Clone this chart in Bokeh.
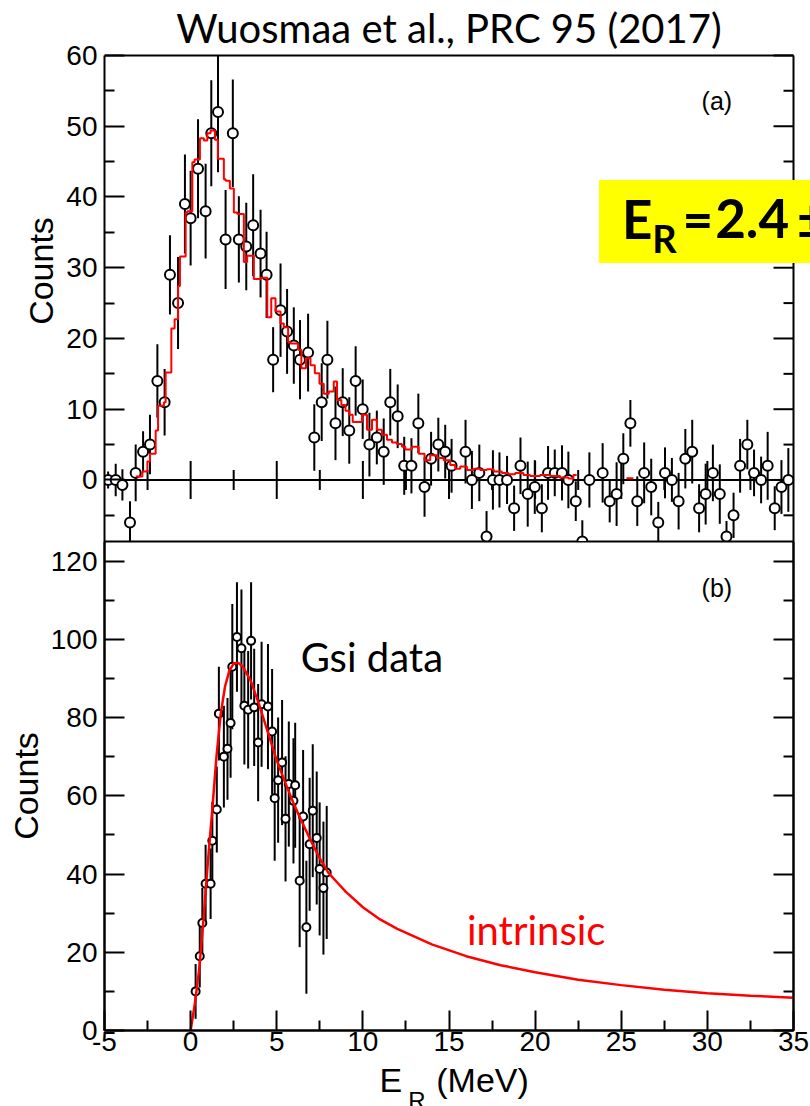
import numpy as np
from bokeh.plotting import figure
from bokeh.models import FixedTicker, LinearAxis, Label, BoxAnnotation, Range1d
from bokeh.layouts import column
from bokeh.embed import file_html
from bokeh.resources import INLINE

# ---------------- panel (a): measured spectrum ----------------
a_energy = [-4.79, -4.35, -3.96, -3.52, -3.19, -2.76, -2.36, -1.93, -1.51, -1.20,
            -0.73, -0.33, 0.00, 0.43, 0.87, 1.20, 1.59, 2.03, 2.45, 2.80,
            3.23, 3.63, 4.06, 4.41, 4.79, 5.22, 5.60, 5.99, 6.35, 6.82,
            7.18, 7.61, 7.94, 8.41, 8.83, 9.21, 9.58, 9.99, 10.38, 10.81,
            11.21, 11.59, 12.02, 12.40, 12.82, 13.22, 13.58, 13.96, 14.38, 14.78,
            15.15, 15.96, 16.33, 16.76, 17.18, 17.55, 17.93, 18.37, 18.78, 19.15,
            19.57, 19.98, 20.39, 20.75, 21.14, 21.56, 21.93, 22.36, 22.74, 23.15,
            23.92, 24.33, 24.73, 25.12, 25.53, 25.93, 26.33, 26.74, 27.15, 27.54,
            27.94, 28.33, 28.72, 29.12, 29.52, 29.90, 30.32, 30.72, 31.11, 31.52,
            31.90, 32.32, 32.71, 33.12, 33.50, 33.91, 34.30, 34.70]
a_counts = [0, 0, -0.7, -6, 1, 4, 5, 14, 11, 29,
            25, 39, 37, 44, 38, 49, 52, 34, 49, 34,
            33, 36, 32, 29, 17, 24, 21, 19, 17, 18,
            6, 11, 17, 8, 11, 7, 14, 10, 5, 6,
            4, 11, 9, 2, 2, 8, -1, 3, 5, 4,
            2, 4, 0, 1, -8, 0, 0, 0, -4, 2,
            -2, -1, -4, 1, 1, 1, 0, -3, -8.7, 0,
            1, -3, -2, 3, 8, -3, 1, -1, -6, 1,
            0, -3, 3, 4, -4, -2, 1, -2, -8, -5,
            2, 5, 1, 0, 2, -4, -1, 0]
a_error = [1.2, 2.3, 2.2, 3.0, 4.0, 2.9, 4.2, 5.2, 4.7, 5.6,
           6.5, 7.0, 6.7, 7.0, 6.7, 7.5, 8.5, 7.0, 7.6, 6.1,
           6.2, 7.2, 6.2, 6.1, 4.6, 6.6, 6.0, 5.4, 5.6, 5.5,
           4.7, 5.5, 5.5, 5.2, 4.8, 4.7, 4.9, 4.2, 4.5, 3.8,
           4.7, 4.7, 4.5, 4.1, 3.9, 4.2, 4.2, 3.8, 3.8, 3.8,
           3.8, 4.5, 4.1, 4.0, 3.6, 4.2, 3.9, 3.4, 3.2, 4.0,
           4.6, 3.8, 3.4, 3.8, 3.3, 3.9, 4.0, 2.8, 3.0, 3.9,
           4.2, 3.0, 4.5, 3.6, 3.3, 3.5, 4.3, 4.0, 2.9, 3.6,
           3.1, 4.0, 4.2, 4.5, 3.4, 4.3, 4.0, 4.2, 2.2, 3.2,
           3.8, 3.5, 3.3, 3.3, 4.8, 3.1, 3.8, 4.5]

# red simulated histogram (bin edges and contents)
a_hist_edges = [-3.19, -2.80, -2.51, -2.36, -2.03, -1.89, -1.55, -1.45, -1.12, -0.93,
                -0.73, -0.62, -0.29, -0.19, 0.10, 0.23, 0.54, 0.77, 0.97, 1.16,
                1.41, 1.58, 1.93, 2.03, 2.28, 2.51, 2.71, 3.09, 3.28, 3.67,
                4.06, 4.45, 4.68, 4.93, 5.22, 5.41, 5.66, 5.80, 6.24, 6.43,
                6.70, 6.96, 7.21, 7.48, 7.73, 8.02, 8.31, 8.50, 8.75, 8.99,
                9.22, 9.41, 9.95, 10.24, 10.53, 10.82, 11.11, 11.40, 11.69, 11.98,
                12.27, 12.46, 12.85, 13.24, 13.58, 13.91, 14.30, 14.69, 15.07, 15.36,
                15.65, 16.04, 16.43, 16.81, 17.20, 17.59, 18.07, 18.45, 18.84, 19.32,
                19.71, 20.29, 20.87, 21.45, 21.93, 22.22, 22.41]
a_hist_levels = [0.5, 1.2, 2.6, 3.7, 7.0, 10.5, 11.0, 15.2, 21.4, 22.7,
                 27.4, 31.6, 37.8, 38.0, 44.9, 45.3, 48.3, 48.0, 49.0, 49.4,
                 48.1, 45.4, 42.5, 42.3, 41.2, 37.8, 37.6, 30.8, 31.7, 28.4,
                 28.6, 23.0, 25.7, 23.8, 22.1, 21.6, 19.5, 19.3, 18.4, 15.8,
                 17.2, 16.2, 15.1, 13.6, 12.2, 12.5, 13.9, 11.3, 10.6, 9.8,
                 9.2, 8.2, 9.2, 7.1, 8.5, 7.1, 6.4, 5.7, 5.3, 5.1,
                 4.7, 4.3, 4.7, 3.7, 2.8, 3.5, 3.1, 2.8, 2.1, 1.6,
                 1.9, 1.4, 1.6, 1.4, 1.5, 1.2, 1.0, 0.8, 1.0, 0.7,
                 0.55, 0.7, 0.55, 0.35, 0.2, 0.7]
a_hist2_edges = [25.3, 25.7]
a_hist2_levels = [0.24]

# ---------------- panel (b): GSI data + intrinsic line shape ----------------
b_energy = [0.29, 0.53, 0.68, 0.87, 1.16, 1.26, 1.52, 1.64, 1.93, 2.14,
            2.32, 2.42, 2.69, 2.95, 3.12, 3.34, 3.51, 3.69, 3.92, 4.12,
            4.49, 4.73, 4.88, 5.08, 5.31, 5.51, 5.70, 5.97, 6.07, 6.33,
            6.53, 6.72, 6.91, 7.09, 7.32, 7.49, 7.71, 7.90]
b_counts = [10, 19, 27.5, 37.5, 37.5, 48.5, 56.5, 81, 70, 72,
            78.6, 93, 100.6, 97.7, 83, 82, 99.6, 82.6, 73.6, 83.4,
            82.8, 76.4, 59.4, 64, 68.5, 54.1, 63, 58.7, 62.7, 38.3,
            54.7, 26.4, 47.6, 56.2, 49.2, 41.3, 36.4, 40.4]
b_error = [7, 8, 9, 10, 9, 10, 11, 12, 13, 13,
           14, 16, 14, 15, 15, 15, 15, 15, 15, 16,
           16, 16, 16, 16, 16, 16, 16, 16, 16, 17,
           17, 17, 17, 17, 17, 17, 17, 17]
b_curve_energy = [0, 0.25, 0.5, 0.75, 1.0, 1.25, 1.5, 1.75, 2.0, 2.25, 2.5, 2.75, 3.0,
                  3.5, 4.0, 4.5, 5.0, 5.5, 6.0, 6.5, 7.0, 7.5, 8.0, 8.5, 9.0, 10, 11, 12,
                  14, 16, 18, 20, 22.5, 25, 27.5, 30, 32.5, 35]
b_curve_counts = [0, 7, 15.7, 28.5, 43, 56, 70, 81, 88, 92, 93.8, 94, 93.2,
                  89.3, 83, 76, 69, 63.3, 57.8, 53, 48.3, 44, 40.3, 37.9, 35.5, 31.5, 28.4, 26.0,
                  22.0, 19.0, 16.7, 14.9, 13.0, 11.6, 10.4, 9.5, 8.9, 8.4]

# ---------------- ticks ----------------
x_major = [-5, 0, 5, 10, 15, 20, 25, 30, 35]
x_major_labels = ["-5", "0", "5", "10", "15", "20", "25", "30", "35"]
x_minor = [-2.5, 2.5, 7.5, 12.5, 17.5, 22.5, 27.5, 32.5]
a_y_major = [0, 10, 20, 30, 40, 50, 60]
a_y_minor = [-5, 5, 15, 25, 35, 45, 55]
b_y_major = [0, 20, 40, 60, 80, 100, 120]
b_y_minor = [10, 30, 50, 70, 90, 110]

AX_FONT = "Liberation Sans"
SLIDE_FONT = "Lato"

# ---------------- layout constants (pixels) ----------------
LEFT, RIGHT = 104, 17            # data frame: x 104 .. 793
FRAME_W = 689
PX_PER_MEV = FRAME_W / 40.0
TOP_A = 55                       # panel (a) plot box starts 55 px below the page top
A_CANVAS_H = 541
A_ZERO_PX = 480                  # page y of counts = 0 in panel (a)
A_LO, A_HI = -8.7, 60.0
A_PPU = (A_CANVAS_H - TOP_A) / (A_HI - A_LO)
B_FRAME_H = 489                  # panel (b) frame: y 541 .. 1030
B_LO, B_HI = 0, 125
XT_H = 36                        # tick-label strip under panel (b)
XL_TOP = A_CANVAS_H + B_FRAME_H + XT_H
XL_H = 1106 - XL_TOP             # strip holding the x-axis title
MAJ, MIN = 20, 10                # tick lengths


def a_y(py):
    """page pixel row -> counts in panel (a) (used to place annotations)"""
    return (A_ZERO_PX - py) / A_PPU


def make_axis(ticks, minor, labels=True, overrides=None):
    ax = LinearAxis(ticker=FixedTicker(ticks=ticks, minor_ticks=minor))
    ax.major_tick_in = MAJ
    ax.major_tick_out = 0
    ax.minor_tick_in = MIN
    ax.minor_tick_out = 0
    ax.major_tick_line_width = 2
    ax.minor_tick_line_width = 2
    ax.axis_line_width = 2
    ax.major_label_text_font = AX_FONT
    ax.major_label_text_font_size = "28px"
    ax.major_label_text_color = "black"
    ax.major_label_standoff = 7
    ax.axis_label_text_font = AX_FONT
    ax.axis_label_text_font_size = "34px"
    ax.axis_label_text_font_style = "normal"
    ax.axis_label_text_color = "black"
    ax.axis_label_standoff = 3
    if not labels:
        ax.major_label_overrides = {t: "" for t in ticks}
    elif overrides:
        ax.major_label_overrides = overrides
    return ax


def base(p, outline):
    p.outline_line_color = "black" if outline else None
    p.outline_line_width = 2
    p.background_fill_color = "white"
    p.border_fill_color = "white"
    p.grid.visible = False


def step_path(edges, levels):
    e = np.asarray(edges, float)
    l = np.asarray(levels, float)
    return np.repeat(e, 2)[1:-1], np.repeat(l, 2)


# ================= panel (a) (with the slide title above it) =================
# the frame covers the title strip and reaches the right window edge,
# so the title and the yellow box can be drawn inside it
xr_a = Range1d(-5, 35 + RIGHT / PX_PER_MEV)
p1 = figure(frame_width=FRAME_W + RIGHT, frame_height=A_CANVAS_H, x_range=xr_a,
            y_range=Range1d(A_LO, A_HI + TOP_A / A_PPU),
            output_backend="svg", toolbar_location=None, x_axis_location=None, y_axis_location=None,
            min_border_left=LEFT, min_border_right=0, min_border_top=0, min_border_bottom=0)
base(p1, outline=False)
la = make_axis(a_y_major, a_y_minor)
la.bounds = (A_LO, A_HI)
la.axis_label = "Counts"
p1.add_layout(la, "left")

# plot border (top, right, bottom) and mirrored right ticks
p1.segment(x0=[-5, 35, -5], y0=[A_HI, A_LO, A_LO], x1=[35, 35, 35], y1=[A_HI, A_HI, A_LO],
           line_color="black", line_width=2)
p1.segment(x0=[35 - MAJ / PX_PER_MEV] * len(a_y_major), x1=[35] * len(a_y_major),
           y0=a_y_major, y1=a_y_major, line_color="black", line_width=2)
p1.segment(x0=[35 - MIN / PX_PER_MEV] * len(a_y_minor), x1=[35] * len(a_y_minor),
           y0=a_y_minor, y1=a_y_minor, line_color="black", line_width=2)

# zero line with its tick marks
p1.segment(x0=[-5], x1=[35], y0=[0], y1=[0], line_color="black", line_width=2)
inner_major = [t for t in x_major if -5 < t < 35]
p1.segment(x0=inner_major, x1=inner_major, y0=[-19 / A_PPU] * len(inner_major),
           y1=[19 / A_PPU] * len(inner_major), line_color="black", line_width=2)
p1.segment(x0=x_minor, x1=x_minor, y0=[-10 / A_PPU] * len(x_minor),
           y1=[10 / A_PPU] * len(x_minor), line_color="black", line_width=2)

ae = np.array(a_energy)
ac = np.array(a_counts)
aerr = np.array(a_error)
top_clip = np.minimum(ac + aerr, A_HI)
p1.segment(x0=ae, x1=ae, y0=ac - aerr, y1=top_clip, line_color="black", line_width=2)
p1.scatter(ae, ac, marker="circle", size=10, fill_color="white", line_color="black", line_width=2)

hx, hy = step_path(a_hist_edges, a_hist_levels)
p1.line(hx, hy, line_color="#ff0000", line_width=2)
hx2, hy2 = step_path(a_hist2_edges, a_hist2_levels)
p1.line(hx2, hy2, line_color="#ff0000", line_width=2)

p1.add_layout(Label(x=15, y=a_y(28), text="Wuosmaa et al., PRC 95 (2017)",
                    text_align="center", text_baseline="middle", text_font=SLIDE_FONT,
                    text_font_size="40px", text_color="black"))
p1.add_layout(Label(x=30.55, y=a_y(101), text="(a)", text_align="center", text_baseline="middle",
                    text_font=AX_FONT, text_font_size="25px", text_color="black"))

# yellow result box
p1.add_layout(BoxAnnotation(left=23.71, right=40, bottom=a_y(263), top=a_y(180),
                            fill_color="#ffff00", fill_alpha=1, line_color=None))
box_font = dict(text_align="left", text_baseline="middle", text_font=SLIDE_FONT,
                text_font_style="bold", text_color="black")
p1.add_layout(Label(x=25.04, y=a_y(219), text="E", text_font_size="53px", **box_font))
p1.add_layout(Label(x=26.80, y=a_y(238), text="R", text_font_size="38px", **box_font))
p1.add_layout(Label(x=28.55, y=a_y(219), text="=", text_font_size="53px", **box_font))
p1.add_layout(Label(x=30.45, y=a_y(219), text="2.4", text_font_size="53px", **box_font))
p1.add_layout(Label(x=35.20, y=a_y(219), text="\u00b1", text_font_size="53px", **box_font))

# ================= panel (b) =================
xr = Range1d(-5, 35)
p2 = figure(frame_width=FRAME_W, frame_height=B_FRAME_H, x_range=xr, y_range=Range1d(B_LO, B_HI),
            output_backend="svg", toolbar_location=None, x_axis_location=None, y_axis_location=None,
            min_border_left=LEFT, min_border_right=RIGHT, min_border_top=0, min_border_bottom=XT_H)
base(p2, outline=True)
lb = make_axis(b_y_major, b_y_minor)
lb.axis_label = "Counts"
p2.add_layout(lb, "left")
p2.add_layout(make_axis(b_y_major, b_y_minor, labels=False), "right")
bx = make_axis(x_major, x_minor, overrides=dict(zip(x_major, x_major_labels)))
bx.major_label_standoff = 1
p2.add_layout(bx, "below")

be = np.array(b_energy)
bc = np.array(b_counts)
berr = np.array(b_error)
p2.segment(x0=be, x1=be, y0=bc - berr, y1=bc + berr, line_color="black", line_width=2)
p2.scatter(be, bc, marker="circle", size=8, fill_color="white", line_color="black", line_width=2)
p2.line(b_curve_energy, b_curve_counts, line_color="#ff0000", line_width=2.5)

p2.add_layout(Label(x=30.55, y=113.2, text="(b)", text_align="center", text_baseline="middle",
                    text_font=AX_FONT, text_font_size="25px", text_color="black"))
p2.add_layout(Label(x=10.52, y=95.5, text="Gsi data", text_align="center", text_baseline="middle",
                    text_font=SLIDE_FONT, text_font_size="40px", text_color="black"))
p2.add_layout(Label(x=20.06, y=25.6, text="intrinsic", text_align="center", text_baseline="middle",
                    text_font=SLIDE_FONT, text_font_size="40px", text_color="#ff0000"))

# ================= x-axis title strip: E_R (MeV) =================
p3 = figure(frame_width=FRAME_W, frame_height=XL_H, x_range=xr, y_range=Range1d(-XL_H, 0),
            output_backend="svg", toolbar_location=None, x_axis_location=None, y_axis_location=None,
            min_border_left=LEFT, min_border_right=RIGHT, min_border_top=0, min_border_bottom=0)
base(p3, outline=False)
p3.add_layout(Label(x=10.96, y=-(1079 - XL_TOP), text="E", text_align="left", text_baseline="middle",
                    text_font=AX_FONT, text_font_size="34px", text_color="black"))
p3.add_layout(Label(x=12.64, y=-(1100 - XL_TOP), text="R", text_align="left", text_baseline="middle",
                    text_font=AX_FONT, text_font_size="24px", text_color="black"))
p3.add_layout(Label(x=14.26, y=-(1079 - XL_TOP), text="(MeV)", text_align="left", text_baseline="middle",
                    text_font=AX_FONT, text_font_size="34px", text_color="black"))

layout = column(p1, p2, p3, spacing=0)
open("out.html", "w").write(file_html(layout, INLINE))
